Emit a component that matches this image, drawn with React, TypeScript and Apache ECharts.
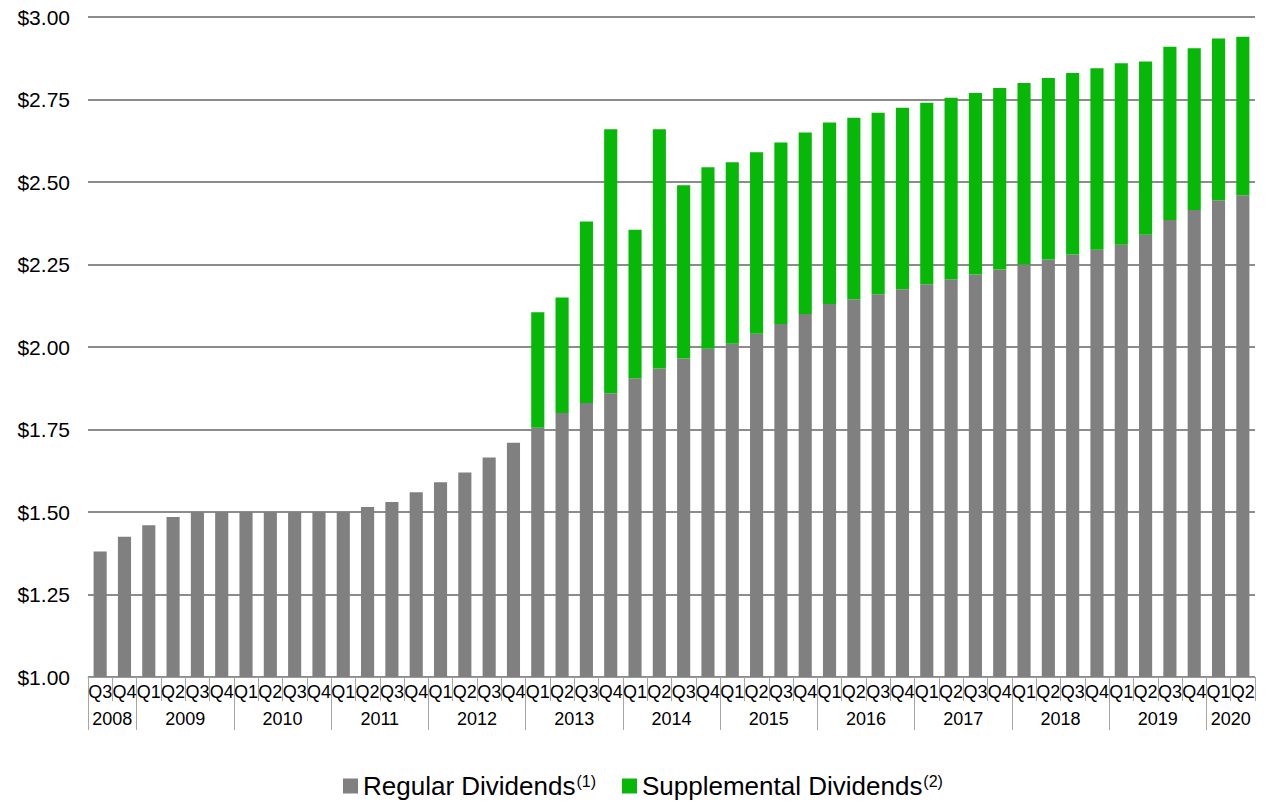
import React, { useEffect, useRef } from "react";
import * as echarts from "echarts";

const quarterLabels = [
  "Q3", "Q4",
  "Q1", "Q2", "Q3", "Q4",
  "Q1", "Q2", "Q3", "Q4",
  "Q1", "Q2", "Q3", "Q4",
  "Q1", "Q2", "Q3", "Q4",
  "Q1", "Q2", "Q3", "Q4",
  "Q1", "Q2", "Q3", "Q4",
  "Q1", "Q2", "Q3", "Q4",
  "Q1", "Q2", "Q3", "Q4",
  "Q1", "Q2", "Q3", "Q4",
  "Q1", "Q2", "Q3", "Q4",
  "Q1", "Q2", "Q3", "Q4",
  "Q1", "Q2",
];

// year groups: name and number of quarters in each
const yearNames = ["2008", "2009", "2010", "2011", "2012", "2013", "2014", "2015", "2016", "2017", "2018", "2019", "2020"];
const yearQuarterCounts = [2, 4, 4, 4, 4, 4, 4, 4, 4, 4, 4, 4, 2];

const regularDividends = [
  1.38, 1.425,
  1.46, 1.485, 1.5, 1.5,
  1.5, 1.5, 1.5, 1.5,
  1.5, 1.515, 1.53, 1.56,
  1.59, 1.62, 1.665, 1.71,
  1.755, 1.8, 1.83, 1.86,
  1.905, 1.935, 1.965, 1.995,
  2.01, 2.04, 2.07, 2.1,
  2.13, 2.145, 2.16, 2.175,
  2.19, 2.205, 2.22, 2.235,
  2.25, 2.265, 2.28, 2.295,
  2.31, 2.34, 2.385, 2.415,
  2.445, 2.46,
];

const supplementalDividends = [
  0, 0,
  0, 0, 0, 0,
  0, 0, 0, 0,
  0, 0, 0, 0,
  0, 0, 0, 0,
  0.35, 0.35, 0.55, 0.8,
  0.45, 0.725, 0.525, 0.55,
  0.55, 0.55, 0.55, 0.55,
  0.55, 0.55, 0.55, 0.55,
  0.55, 0.55, 0.55, 0.55,
  0.55, 0.55, 0.55, 0.55,
  0.55, 0.525, 0.525, 0.49,
  0.49, 0.48,
];

const yTickMin = 1.0;
const yTickMax = 3.0;
const yTickStep = 0.25;

const GRAY = "#808080";
const GREEN = "#08B808";
const FONT = "'Liberation Sans', Arial, Helvetica, sans-serif";

export default function App() {
  const ref = useRef<HTMLDivElement>(null);

  useEffect(() => {
    if (!ref.current) return;
    const chart = echarts.init(ref.current, null, { renderer: "svg" });

    // Half-quarter point axis for the year row (boundaryGap false)
    const nPoints = quarterLabels.length * 2 + 1;
    const yearAxisData: string[] = new Array(nPoints).fill("");
    const yearBoundaries = new Set<number>();
    let q = 0;
    yearNames.forEach((name, i) => {
      const cnt = yearQuarterCounts[i];
      yearBoundaries.add(q * 2);
      yearAxisData[q * 2 + cnt] = name;
      q += cnt;
    });

    chart.setOption({
      animation: false,
      backgroundColor: "#ffffff",
      textStyle: { fontFamily: FONT },
      grid: { left: 88, right: 13, top: 17, bottom: 124, containLabel: false },
      legend: {
        left: 343,
        top: 773,
        padding: 0,
        itemWidth: 15,
        itemHeight: 15,
        itemGap: 26,
        icon: "rect",
        data: ["Regular Dividends", "Supplemental Dividends"],
        formatter: (name: string) =>
          name === "Regular Dividends" ? `${name}{sup|(1)}` : `${name}{sup|(2)}`,
        textStyle: {
          fontFamily: FONT,
          fontSize: 26,
          color: "#000",
          lineHeight: 26,
          rich: {
            sup: { fontSize: 16, fontFamily: FONT, color: "#000", verticalAlign: "top", lineHeight: 16, padding: [0, 0, 10, 1] },
          },
        },
      },
      xAxis: [
        {
          type: "category",
          data: quarterLabels,
          position: "bottom",
          boundaryGap: true,
          axisLine: { show: true, lineStyle: { color: "#9a9a9a", width: 1 } },
          axisTick: { show: true, interval: 0, length: 24, lineStyle: { color: "#a6a6a6", width: 1 } },
          axisLabel: { interval: 0, fontSize: 18, color: "#000", margin: 6, fontFamily: FONT },
          splitLine: { show: false },
        },
        {
          type: "category",
          data: yearAxisData,
          position: "bottom",
          offset: 0,
          boundaryGap: false,
          axisLine: { show: false },
          axisTick: {
            show: true,
            length: 53,
            interval: (i: number) => yearBoundaries.has(i),
            lineStyle: { color: "#a6a6a6", width: 1 },
          },
          axisLabel: {
            interval: (i: number, v: string) => v !== "",
            fontSize: 18,
            color: "#000",
            margin: 33,
            fontFamily: FONT,
          },
          splitLine: { show: false },
        },
      ],
      yAxis: {
        type: "value",
        min: yTickMin,
        max: yTickMax,
        interval: yTickStep,
        axisLine: { show: false },
        axisTick: { show: false },
        axisLabel: {
          formatter: (v: number) => `$${v.toFixed(2)}`,
          fontSize: 21,
          color: "#000",
          margin: 18,
          fontFamily: FONT,
        },
        splitLine: { show: true, lineStyle: { color: "#8c8c8c", width: 2 } },
      },
      series: [
        {
          name: "Regular Dividends",
          type: "bar",
          stack: "div",
          xAxisIndex: 0,
          barWidth: "54%",
          itemStyle: { color: GRAY },
          data: regularDividends,
        },
        {
          name: "Supplemental Dividends",
          type: "bar",
          stack: "div",
          xAxisIndex: 0,
          barWidth: "54%",
          itemStyle: { color: GREEN },
          data: supplementalDividends,
        },
      ],
    });

    return () => chart.dispose();
  }, []);

  return (
    <div
      ref={ref}
      style={{ position: "fixed", left: 0, top: 0, width: 1268, height: 801, background: "#fff" }}
    />
  );
}
